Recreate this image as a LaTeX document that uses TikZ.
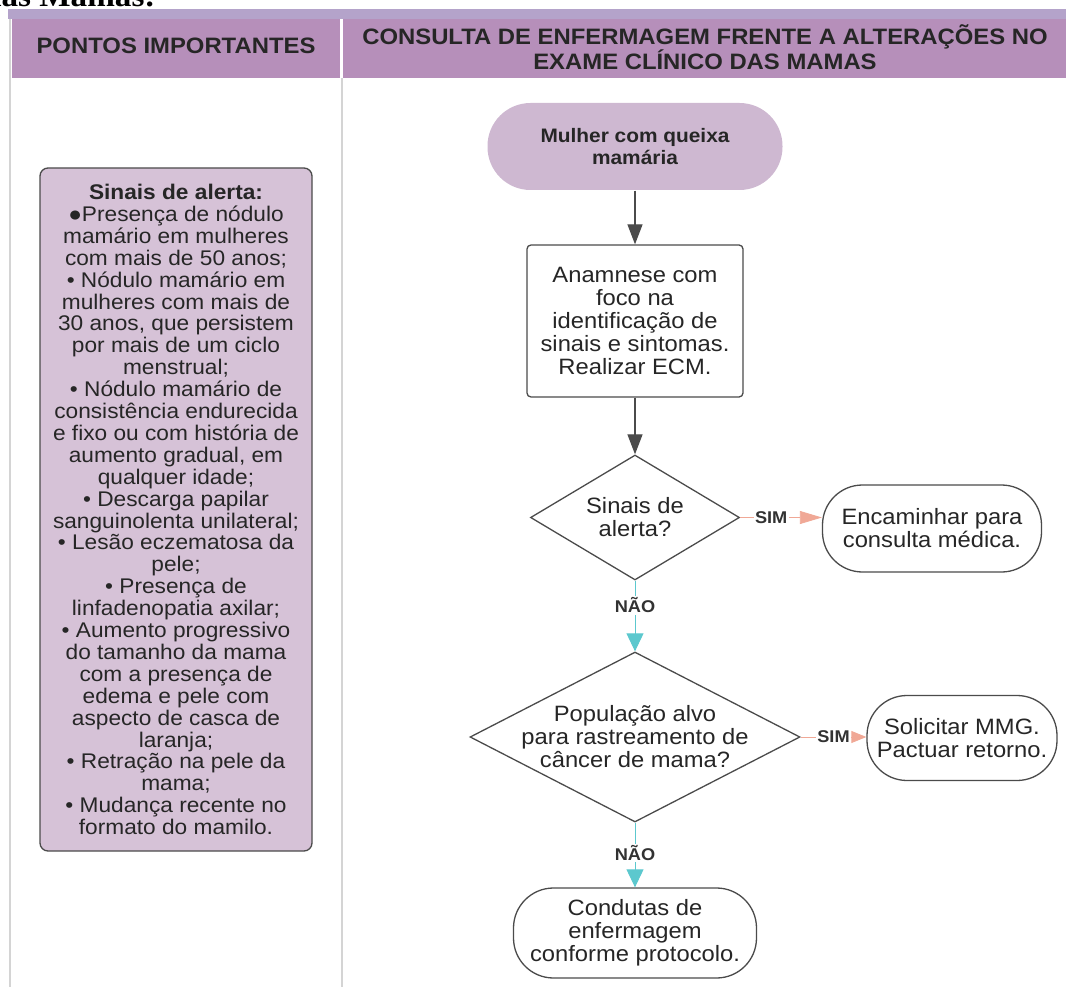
\documentclass[tikz,border=0pt]{standalone}
\usepackage{fontspec}
\setmainfont{Liberation Sans}[FakeStretch=1.07]
\newfontfamily\capfont{Liberation Serif}[FakeStretch=1.07]
\usetikzlibrary{arrows.meta,shapes.geometric}

\definecolor{stripe}{RGB}{180,163,202}
\definecolor{headpurple}{RGB}{182,143,186}
\definecolor{startlilac}{RGB}{206,184,209}
\definecolor{alertlilac}{RGB}{214,194,215}
\definecolor{edgegrey}{RGB}{75,75,75}
\definecolor{gridgrey}{RGB}{212,212,212}
\definecolor{simsalmon}{RGB}{240,168,150}
\definecolor{naocyan}{RGB}{92,200,206}
\definecolor{labelgrey}{RGB}{50,50,50}

\tikzset{
  flowtext/.style={font=\fontsize{22.2}{23}\selectfont, align=center, text=black!85},
  terminal/.style={rectangle, rounded corners=40pt, draw=edgegrey, line width=1.3pt, fill=white, inner sep=0pt, flowtext},
  process/.style={rectangle, rounded corners=4pt, draw=edgegrey, line width=1.3pt, fill=white, inner sep=0pt, flowtext},
  decision/.style={diamond, draw=edgegrey, line width=1.3pt, fill=white, inner sep=0pt},
  flowarrow/.style={draw=edgegrey, line width=1.3pt, -{Triangle[length=20pt,width=15pt]}},
  simarrow/.style={draw=simsalmon, line width=0.8pt, -{Triangle[length=22pt,width=13pt]}},
  naoarrow/.style={draw=naocyan, line width=1pt, -{Triangle[length=18pt,width=17pt]}},
  answer/.style={font=\bfseries\fontsize{17}{17}\selectfont, text=labelgrey, fill=white, inner sep=1.5pt},
  headtext/.style={font=\bfseries\fontsize{22.3}{25}\selectfont, align=center, text=black!85},
}

\begin{document}
\begin{tikzpicture}[x=1pt,y=-1pt]
\useasboundingbox (0,0) rectangle (1066,987);
\node[anchor=base west, inner sep=0pt, font=\capfont\bfseries\fontsize{31}{31}\selectfont] (caption) at (-17,7) {das Mamas:};
\fill[stripe] (8,9) rectangle (1066,19);
\fill[headpurple] (12,19) rectangle (340,78);
\fill[headpurple] (343,19) rectangle (1066,78);
\draw[gridgrey, line width=2pt] (10,19) -- (10,987);
\draw[gridgrey, line width=2pt] (341.5,78) -- (341.5,987);
\node[headtext] (pontos) at (176,46) {PONTOS IMPORTANTES};
\node[headtext] (consulta) at (705,47) {CONSULTA DE ENFERMAGEM FRENTE A ALTERAÇÕES NO\\EXAME CLÍNICO DAS MAMAS};

\node[rectangle, rounded corners=8pt, draw=edgegrey, line width=1.3pt, fill=alertlilac,
  minimum width=272pt, minimum height=683pt, align=center, text=black!85,
  font=\fontsize{21.2}{21.9}\selectfont] (alerta) at (176,509.5) {\textbf{Sinais de alerta:}\\
●Presença de nódulo\\
mamário em mulheres\\
com mais de 50 anos;\\
• Nódulo mamário em\\
mulheres com mais de\\
30 anos, que persistem\\
por mais de um ciclo\\
menstrual;\\
• Nódulo mamário de\\
consistência endurecida\\
e fixo ou com história de\\
aumento gradual, em\\
qualquer idade;\\
• Descarga papilar\\
sanguinolenta unilateral;\\
• Lesão eczematosa da\\
pele;\\
• Presença de\\
linfadenopatia axilar;\\
• Aumento progressivo\\
do tamanho da mama\\
com a presença de\\
edema e pele com\\
aspecto de casca de\\
laranja;\\
• Retração na pele da\\
mama;\\
• Mudança recente no\\
formato do mamilo.};

\node[terminal, draw=none, fill=startlilac, rounded corners=43pt, minimum width=295pt, minimum height=87pt,
  font=\bfseries\fontsize{19.5}{22}\selectfont] (mulher) at (635,146.5) {Mulher com queixa\\mamária};
\node[process, minimum width=216pt, minimum height=152pt] (anamnese) at (635,321) {Anamnese com\\foco na\\identificação de\\sinais e sintomas.\\Realizar ECM.};
\node[decision, minimum width=209pt, minimum height=125pt,
  label={[flowtext]center:{Sinais de\\alerta?}}] (sinais) at (635,517.5) {};
\node[terminal, minimum width=219pt, minimum height=87pt] (encaminhar) at (932,528.5) {Encaminhar para\\consulta médica.};
\node[decision, minimum width=330pt, minimum height=170pt,
  label={[flowtext]center:{População alvo\\para rastreamento de\\câncer de mama?}}] (populacao) at (635,737) {};
\node[terminal, minimum width=190pt, minimum height=85pt] (solicitar) at (962,738) {Solicitar MMG.\\Pactuar retorno.};
\node[terminal, minimum width=243pt, minimum height=90pt] (condutas) at (635,933) {Condutas de\\enfermagem\\conforme protocolo.};

\draw[flowarrow] (mulher) -- (anamnese);
\draw[flowarrow] (anamnese) -- (sinais);
\draw[simarrow] (sinais.east) -- node[answer, pos=0.38] {SIM} (sinais.east -| encaminhar.west);
\draw[naoarrow] (sinais) -- node[answer, pos=0.35] {NÃO} (populacao);
\draw[simarrow, -{Triangle[length=15pt,width=12pt]}] (populacao.east) -- node[answer] {SIM} (populacao.east -| solicitar.west);
\draw[naoarrow] (populacao) -- node[answer, pos=0.47] {NÃO} (condutas);
\end{tikzpicture}
\end{document}
